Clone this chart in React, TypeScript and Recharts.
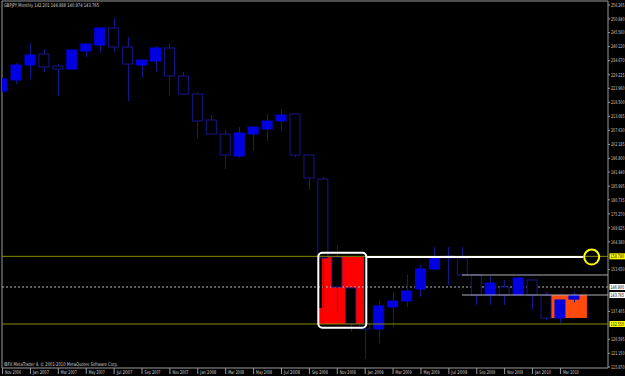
import {
  Bar,
  ComposedChart,
  ReferenceArea,
  ReferenceDot,
  ReferenceLine,
  XAxis,
  YAxis,
} from "recharts";

const months = [
  "Nov 2006", "Dec 2006", "Jan 2007", "Feb 2007", "Mar 2007", "Apr 2007", "May 2007",
  "Jun 2007", "Jul 2007", "Aug 2007", "Sep 2007", "Oct 2007", "Nov 2007", "Dec 2007",
  "Jan 2008", "Feb 2008", "Mar 2008", "Apr 2008", "May 2008", "Jun 2008", "Jul 2008",
  "Aug 2008", "Sep 2008", "Oct 2008", "Nov 2008", "Dec 2008", "Jan 2009", "Feb 2009",
  "Mar 2009", "Apr 2009", "May 2009", "Jun 2009", "Jul 2009", "Aug 2009", "Sep 2009",
  "Oct 2009", "Nov 2009", "Dec 2009", "Jan 2010", "Feb 2010", "Mar 2010", "Apr 2010",
];

const opens = [
  222.91, 227.18, 233.0, 237.26, 232.61, 231.44, 238.42, 240.75, 247.35, 239.98, 233.0,
  234.55, 239.59, 228.73, 221.75, 211.67, 206.24, 197.7, 206.24, 208.17, 211.28, 213.99,
  198.09, 188.78, 158.53, 146.51, 132.55, 130.61, 139.14, 141.47, 146.12, 153.88, 158.92,
  158.15, 151.55, 143.79, 146.9, 143.79, 149.61, 143.79, 134.87, 142.2,
];
const highs = [
  227.95, 233.77, 241.53, 239.2, 233.38, 238.9, 241.53, 247.45, 251.22, 243.85, 235.0,
  240.37, 241.53, 230.28, 222.52, 213.6, 207.79, 208.95, 209.0, 213.99, 215.93, 214.1,
  198.2, 189.56, 163.19, 146.6, 141.08, 141.47, 144.96, 151.55, 155.43, 162.41, 162.41,
  162.41, 151.6, 151.17, 149.61, 150.78, 149.7, 144.96, 141.9, 144.89,
];
const lows = [
  222.52, 225.63, 227.57, 230.28, 220.97, 231.3, 236.1, 237.65, 238.04, 219.03, 227.95,
  230.28, 220.97, 221.6, 204.68, 206.1, 192.66, 196.93, 199.64, 203.52, 207.79, 197.31,
  184.52, 139.14, 137.2, 129.45, 118.98, 125.18, 131.38, 139.14, 143.02, 153.8, 147.67,
  151.3, 139.92, 139.92, 139.92, 143.7, 137.98, 134.1, 132.93, 140.97,
];
const closes = [
  227.57, 233.0, 236.87, 232.22, 231.44, 238.81, 241.14, 247.35, 239.98, 233.38, 234.93,
  239.59, 228.73, 221.75, 211.28, 206.24, 198.09, 206.62, 208.95, 211.28, 213.6, 198.09,
  189.17, 158.15, 146.9, 132.55, 130.61, 139.53, 141.47, 145.35, 153.88, 158.53, 158.15,
  151.55, 143.79, 148.44, 143.79, 150.39, 143.79, 134.87, 141.86, 143.77,
];

const xTicks = [0, 2, 4, 6, 8, 10, 12, 14, 16, 18, 20, 22, 24, 26, 28, 30, 32, 34, 36, 38, 40];
const yTicks = [
  256.265, 250.84, 245.56, 240.12, 234.67, 229.225, 223.96, 218.5, 213.085, 207.63, 202.185,
  196.8, 191.44, 185.995, 180.735, 175.27, 169.825, 164.38, 153.65, 137.405, 126.595,
  121.15, 115.87,
];

// drawing objects on the chart
const redBoxes = [
  { x1: 22.9, x2: 25.91, y1: 132.55, y2: 158.53 },
  { x1: 22.62, x2: 22.9, y1: 132.55, y2: 138.75 },
];
const orangeBox = { x1: 39.32, x2: 41.9, y1: 134.87, y2: 143.79 };
const frameBox = { x1: 22.64, x2: 26.08, y1: 131.07, y2: 160.2 };
const yellowLevels = [
  { y: 158.79, tag: "158.790" },
  { y: 132.55, tag: "132.550" },
];
const greyLevels = [151.55, 143.79];

const header = "GBPJPY,Monthly  142.201 144.888 140.974 143.765";
const copyright = "IBFX MetaTrader 4, \u00a9 2001-2010 MetaQuotes Software Corp.";

const X_MIN = -0.04;
const X_MAX = 43.41;
const Y_MIN = 115.48;
const Y_MAX = 257.82;

const font = "'Liberation Sans Narrow', 'DejaVu Sans Condensed', 'Liberation Sans', sans-serif";
const axisColor = "#9a9a9a";
const textColor = "#d0d0d0";
const bullFill = "#0000e0";
const outline = "#16168e";

const rows = months.map((m, i) => ({
  i,
  month: m,
  open: opens[i],
  high: highs[i],
  low: lows[i],
  close: closes[i],
  range: [lows[i], highs[i]],
}));

function Candle(props: any) {
  const { x, y, width, height, payload } = props;
  const top = Math.min(y, y + height);
  const h = Math.abs(height);
  const { open, close, high, low } = payload;
  const span = high - low || 1;
  const toY = (v: number) => top + ((high - v) / span) * h;
  const cx = Math.round(x + width / 2) + 0.5;
  const bodyTop = toY(Math.max(open, close));
  const bodyBot = toY(Math.min(open, close));
  const up = close >= open;
  return (
    <g>
      <line x1={cx} x2={cx} y1={top} y2={top + h} stroke={outline} />
      <rect
        x={x + 0.5}
        y={bodyTop}
        width={width - 1}
        height={Math.max(bodyBot - bodyTop, 1)}
        fill={up ? bullFill : "#000"}
        stroke={up ? bullFill : outline}
      />
    </g>
  );
}

function XTick({ x, y, payload }: any) {
  return (
    <g>
      <line x1={x} x2={x} y1={y} y2={y + 6} stroke={axisColor} />
      <text
        x={x + 2.5}
        y={y + 6.3}
        fontSize={5}
        fill={textColor}
        fontFamily={font}
        textLength={16}
        lengthAdjust="spacingAndGlyphs"
      >
        {months[payload.value]}
      </text>
    </g>
  );
}

function YTick({ x, y, payload }: any) {
  return (
    <g>
      <line x1={x} x2={x + 2} y1={y} y2={y} stroke={axisColor} />
      <text
        x={x + 3}
        y={y + 1.8}
        fontSize={5}
        fill={textColor}
        fontFamily={font}
        textLength={13.5}
        lengthAdjust="spacingAndGlyphs"
      >
        {payload.value.toFixed(3)}
      </text>
    </g>
  );
}

function PriceTag({ viewBox, text, bg }: any) {
  const left = viewBox.x + viewBox.width + 1.5;
  const y = viewBox.y;
  return (
    <g>
      <rect x={left} y={y - 3} width={15.5} height={6} fill={bg} />
      <text
        x={left + 1}
        y={y + 1.8}
        fontSize={5}
        fill="#000"
        fontFamily={font}
        textLength={13.5}
        lengthAdjust="spacingAndGlyphs"
      >
        {text}
      </text>
    </g>
  );
}

function CornerText({ viewBox, text, dy, len }: any) {
  return (
    <text
      x={viewBox.x + 2}
      y={viewBox.y + dy}
      fontSize={5}
      fill={textColor}
      fontFamily={font}
      textLength={len}
      lengthAdjust="spacingAndGlyphs"
    >
      {text}
    </text>
  );
}

function RoundBox(props: any) {
  const { x, y, width, height } = props;
  return (
    <rect x={x} y={y} width={width} height={height} rx={4} ry={4} fill="none" stroke="#ffffff" strokeWidth={2} />
  );
}

export default function App() {
  return (
    <div style={{ position: "absolute", left: 0, top: 0, width: 625, height: 376, background: "#000" }}>
      <ComposedChart width={625} height={376} data={rows} margin={{ top: 1, right: 0, bottom: 0, left: 2 }}>
        <XAxis
          type="number"
          dataKey="i"
          domain={[X_MIN, X_MAX]}
          allowDataOverflow
          ticks={xTicks}
          interval={0}
          height={8}
          tickSize={0}
          tickMargin={0}
          tickLine={false}
          axisLine={{ stroke: axisColor }}
          tick={<XTick />}
        />
        <YAxis
          orientation="right"
          type="number"
          domain={[Y_MIN, Y_MAX]}
          allowDataOverflow
          ticks={yTicks}
          interval={0}
          width={17}
          tickSize={0}
          tickMargin={0}
          tickLine={false}
          axisLine={{ stroke: axisColor }}
          tick={<YTick />}
        />
        <ReferenceLine x={X_MIN} stroke={axisColor} zIndex={50} />
        <ReferenceLine
          y={Y_MAX}
          stroke={axisColor}
          zIndex={50}
          label={<CornerText text={header} dy={6} len={95} />}
        />
        <ReferenceLine
          y={Y_MIN}
          stroke="none"
          zIndex={50}
          label={<CornerText text={copyright} dy={-2} len={114} />}
        />
        <ReferenceArea
          x1={orangeBox.x1}
          x2={orangeBox.x2}
          y1={orangeBox.y1}
          y2={orangeBox.y2}
          fill="#ff4a0a"
          fillOpacity={1}
          stroke="none"
          zIndex={100}
        />
        {redBoxes.map((b, k) => (
          <ReferenceArea
            key={k}
            x1={b.x1}
            x2={b.x2}
            y1={b.y1}
            y2={b.y2}
            fill="#ff0000"
            fillOpacity={1}
            stroke="none"
            zIndex={100}
          />
        ))}
        <ReferenceLine
          y={146.9}
          stroke="#b8b8b8"
          strokeDasharray="2 2"
          zIndex={150}
          label={<PriceTag text="146.900" bg="#ffffff" />}
        />
        <Bar dataKey="range" barSize={11} shape={<Candle />} isAnimationActive={false} zIndex={300} />
        {yellowLevels.map((l) => (
          <ReferenceLine
            key={l.tag}
            y={l.y}
            stroke="#8a8a00"
            zIndex={600}
            label={<PriceTag text={l.tag} bg="#ffff00" />}
          />
        ))}
        {greyLevels.map((v) => (
          <ReferenceLine
            key={v}
            segment={[
              { x: 32.94, y: v },
              { x: X_MAX, y: v },
            ]}
            stroke="#b0b0b0"
            zIndex={600}
          />
        ))}
        <ReferenceLine
          y={143.765}
          stroke="none"
          zIndex={600}
          label={<PriceTag text="143.765" bg="#ffffff" />}
        />
        <ReferenceLine
          segment={[
            { x: frameBox.x2, y: 158.5 },
            { x: 41.62, y: 158.5 },
          ]}
          stroke="#ffffff"
          strokeWidth={2}
          zIndex={650}
        />
        <ReferenceArea
          x1={frameBox.x1}
          x2={frameBox.x2}
          y1={frameBox.y1}
          y2={frameBox.y2}
          shape={<RoundBox />}
          zIndex={700}
        />
        <ReferenceDot
          x={42.24}
          y={158.5}
          r={7.5}
          fill="none"
          stroke="#ffff00"
          strokeWidth={2}
          zIndex={700}
        />
      </ComposedChart>
    </div>
  );
}
